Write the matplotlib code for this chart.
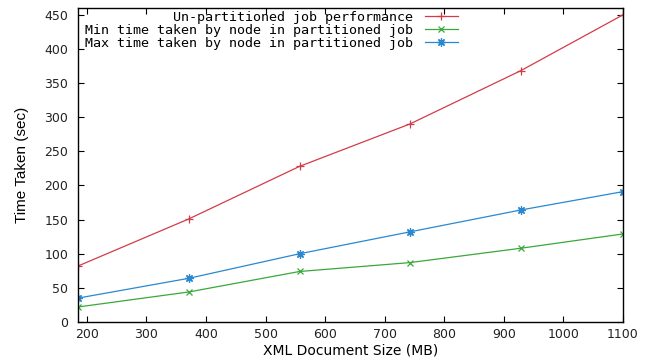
import matplotlib
matplotlib.use("Agg")
import matplotlib.pyplot as plt

sizes = [185, 371, 557, 742, 928, 1100]
unpartitioned = [82, 151, 228, 290, 368, 450]
min_partitioned = [22, 44, 74, 87, 108, 129]
max_partitioned = [35, 64, 100, 132, 164, 191]
labels = ["Un-partitioned job performance",
          "Min time taken by node in partitioned job",
          "Max time taken by node in partitioned job"]
xticks = [200, 300, 400, 500, 600, 700, 800, 900, 1000, 1100]
yticks = [0, 50, 100, 150, 200, 250, 300, 350, 400, 450]

W, H = 648, 360
fig = plt.figure(figsize=(6.48, 3.6), dpi=100)
ax = fig.add_axes([78 / W, (H - 322) / H, (623 - 78) / W, (322 - 8) / H])

ax.plot(sizes, unpartitioned, color="#d23c48", lw=0.9, marker="+", ms=6, mew=0.9, label=labels[0])
ax.plot(sizes, min_partitioned, color="#3aa83a", lw=0.9, marker="x", ms=5, mew=0.9, label=labels[1])
ax.plot(sizes, max_partitioned, color="#2a88d0", lw=0.9, marker=(8, 2, 0), ms=6, mew=0.9, label=labels[2])

ax.set_xlim(185, 1100)
ax.set_ylim(0, 460)
ax.set_xticks(xticks)
ax.set_yticks(yticks)
ax.tick_params(direction="in", top=True, right=True, length=4, width=0.8,
               labelsize=9, pad=4)
ax.tick_params(axis="y", pad=7)
for lab in ax.get_xticklabels() + ax.get_yticklabels():
    lab.set_family("DejaVu Sans")
    lab.set_color("#222222")
for sp in ax.spines.values():
    sp.set_linewidth(1.0)

ax.set_xlabel("XML Document Size (MB)", fontsize=10, family="DejaVu Sans", labelpad=2)
ax.set_ylabel("Time Taken (sec)", fontsize=11, family="Liberation Sans", labelpad=11)

leg = ax.legend(loc="upper right", frameon=False, markerfirst=False,
                prop={"family": "DejaVu Sans Mono", "size": 9.6},
                handlelength=2.5, handletextpad=0.9, labelspacing=0.0,
                borderaxespad=0.0, borderpad=0.0,
                bbox_to_anchor=((458 - 78) / (623 - 78), 0.99))
for t in leg.get_texts():
    t.set_ha("right")
leg._legend_box.align = "right"

fig.savefig("out.png", dpi=100)
